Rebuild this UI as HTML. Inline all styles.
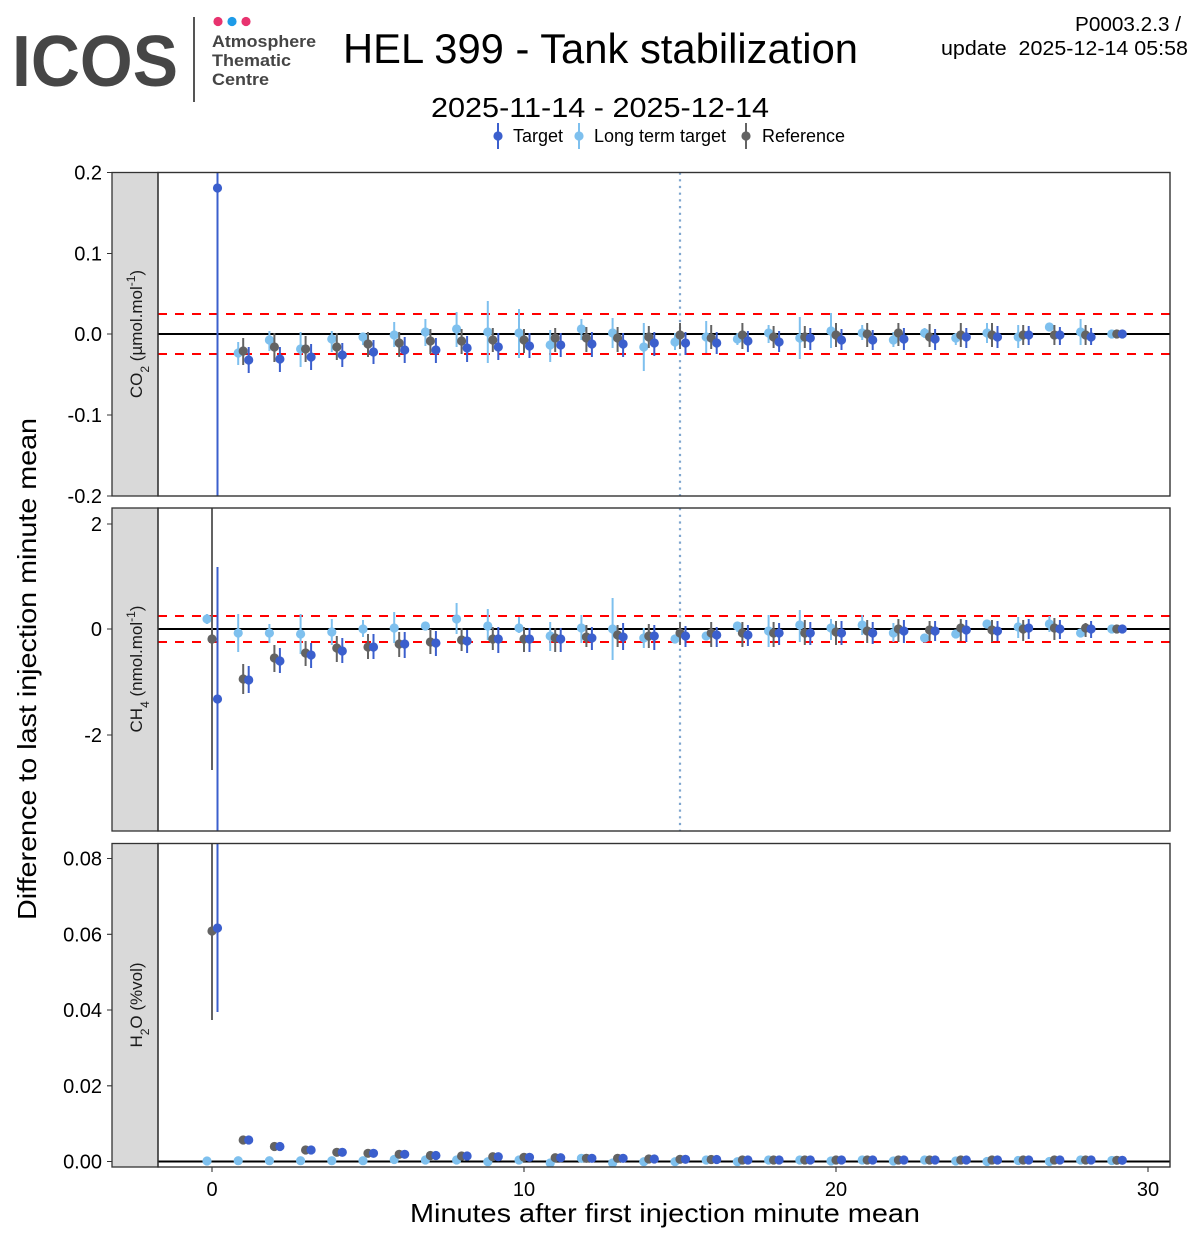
<!DOCTYPE html>
<html><head><meta charset="utf-8"><style>
html,body{margin:0;padding:0;background:#fff;}
svg{display:block;}
text{font-family:"Liberation Sans",Arial,sans-serif;}
</style></head><body>
<svg width="1200" height="1245" viewBox="0 0 1200 1245" xmlns="http://www.w3.org/2000/svg">
<rect x="0" y="0" width="1200" height="1245" fill="#fff"/>
<defs>
<clipPath id="c1"><rect x="158" y="172.5" width="1012" height="323.5"/></clipPath>
<clipPath id="c2"><rect x="158" y="508" width="1012" height="323"/></clipPath>
<clipPath id="c3"><rect x="158" y="843.5" width="1012" height="323.5"/></clipPath>
</defs>

<!-- Logo -->
<text x="12" y="86" font-size="72" font-weight="bold" fill="#464646" textLength="166" lengthAdjust="spacingAndGlyphs">ICOS</text>
<line x1="194" y1="17" x2="194" y2="102" stroke="#555" stroke-width="2"/>
<circle cx="218" cy="21.5" r="4.6" fill="#e8336f"/>
<circle cx="232" cy="21.5" r="4.6" fill="#1d9be8"/>
<circle cx="246" cy="21.5" r="4.6" fill="#e8336f"/>
<text x="212" y="47" font-size="17" font-weight="bold" fill="#454545" textLength="104" lengthAdjust="spacingAndGlyphs">Atmosphere</text>
<text x="212" y="66" font-size="17" font-weight="bold" fill="#454545" textLength="79" lengthAdjust="spacingAndGlyphs">Thematic</text>
<text x="212" y="85" font-size="17" font-weight="bold" fill="#454545" textLength="57" lengthAdjust="spacingAndGlyphs">Centre</text>

<!-- Titles -->
<text x="343" y="63" font-size="42" fill="#000" textLength="515" lengthAdjust="spacingAndGlyphs">HEL 399 - Tank stabilization</text>
<text x="431" y="117" font-size="28" fill="#000" textLength="338" lengthAdjust="spacingAndGlyphs">2025-11-14 - 2025-12-14</text>
<text x="1075" y="31" font-size="20" fill="#000" textLength="106" lengthAdjust="spacingAndGlyphs">P0003.2.3 /</text>
<text x="941" y="55" font-size="20" fill="#000" xml:space="preserve" style="white-space:pre" textLength="247" lengthAdjust="spacingAndGlyphs">update  2025-12-14 05:58</text>

<!-- Legend -->
<g stroke-width="2">
<line x1="498" y1="123" x2="498" y2="149" stroke="#3b5fcd"/>
<line x1="579" y1="123" x2="579" y2="149" stroke="#7ec0ee"/>
<line x1="746" y1="123" x2="746" y2="149" stroke="#636363"/>
</g>
<circle cx="498" cy="136" r="4.6" fill="#3b5fcd"/>
<circle cx="579" cy="136" r="4.6" fill="#7ec0ee"/>
<circle cx="746" cy="136" r="4.6" fill="#636363"/>
<text x="513" y="142" font-size="18" fill="#000" textLength="50" lengthAdjust="spacingAndGlyphs">Target</text>
<text x="594" y="142" font-size="18" fill="#000" textLength="132" lengthAdjust="spacingAndGlyphs">Long term target</text>
<text x="762" y="142" font-size="18" fill="#000" textLength="83" lengthAdjust="spacingAndGlyphs">Reference</text>

<!-- Y axis title -->
<text transform="translate(36,669) rotate(-90)" text-anchor="middle" font-size="26" fill="#000" textLength="502" lengthAdjust="spacingAndGlyphs">Difference to last injection minute mean</text>
<!-- X axis title -->
<text x="410" y="1222" font-size="26" fill="#000" textLength="510" lengthAdjust="spacingAndGlyphs">Minutes after first injection minute mean</text>

<!-- Strips -->
<g fill="#d9d9d9" stroke="#333" stroke-width="1.3">
<rect x="112" y="172.5" width="46" height="323.5"/>
<rect x="112" y="508" width="46" height="323"/>
<rect x="112" y="843.5" width="46" height="323.5"/>
</g>
<g fill="#1a1a1a" font-size="17" text-anchor="middle">
<text transform="translate(142,334) rotate(-90)">CO<tspan font-size="12" baseline-shift="sub">2</tspan> (µmol.mol<tspan font-size="12" baseline-shift="super">-1</tspan>)</text>
<text transform="translate(142,669) rotate(-90)">CH<tspan font-size="12" baseline-shift="sub">4</tspan> (nmol.mol<tspan font-size="12" baseline-shift="super">-1</tspan>)</text>
<text transform="translate(142,1005) rotate(-90)">H<tspan font-size="12" baseline-shift="sub">2</tspan>O (%vol)</text>
</g>

<!-- Y ticks -->
<g stroke="#333" stroke-width="1.1">
<path d="M107 172.5H112M107 253.5H112M107 334H112M107 415H112M107 496H112"/>
<path d="M107 524H112M107 629H112M107 735H112"/>
<path d="M107 858.5H112M107 934.3H112M107 1010H112M107 1085.8H112M107 1161.5H112"/>
<path d="M212 1167V1172M524 1167V1172M836 1167V1172M1148 1167V1172"/>
</g>
<g font-size="20" fill="#000" text-anchor="end">
<text x="102" y="179.5">0.2</text>
<text x="102" y="260.5">0.1</text>
<text x="102" y="341">0.0</text>
<text x="102" y="422">-0.1</text>
<text x="102" y="503">-0.2</text>
<text x="102" y="531">2</text>
<text x="102" y="636">0</text>
<text x="102" y="742">-2</text>
<text x="102" y="865.5">0.08</text>
<text x="102" y="941.3">0.06</text>
<text x="102" y="1017">0.04</text>
<text x="102" y="1092.8">0.02</text>
<text x="102" y="1168.5">0.00</text>
</g>
<g font-size="20" fill="#000" text-anchor="middle">
<text x="212" y="1196">0</text>
<text x="524" y="1196">10</text>
<text x="836" y="1196">20</text>
<text x="1148" y="1196">30</text>
</g>

<!-- PANEL 1 : CO2 -->
<g clip-path="url(#c1)">
<line x1="158" y1="334" x2="1170" y2="334" stroke="#000" stroke-width="2"/>
<line x1="158" y1="314" x2="1170" y2="314" stroke="#ff0000" stroke-width="2" stroke-dasharray="9 8"/>
<line x1="158" y1="354" x2="1170" y2="354" stroke="#ff0000" stroke-width="2" stroke-dasharray="9 8"/>
<line x1="680" y1="172.5" x2="680" y2="496" stroke="#7fa6cf" stroke-width="2.2" stroke-dasharray="2.2 4.5"/>
<!-- LT -->
<path stroke="#7ec0ee" stroke-width="2" fill="none" d="M238.2 342V365M269.4 331V351M300.6 332V367M331.8 331V352M363 333V345M394.2 322V347M425.4 319V346M456.6 312V347M487.8 301V363M519 309V358M550.2 330V362M581.4 319V340M612.6 318V348M643.8 323V371M675 333V350M706.2 321V353M737.4 333V345M768.6 325V343M799.8 317V359M831 313V348M862.2 325V340M893.4 332V347M924.6 328V338M955.8 333V345M987 323V343M1018.2 325V348M1080.6 319V345"/>
<g fill="#7ec0ee">
<circle cx="238.2" cy="353" r="4.6"/><circle cx="269.4" cy="340" r="4.6"/><circle cx="300.6" cy="349" r="4.6"/><circle cx="331.8" cy="339" r="4.6"/><circle cx="363" cy="337" r="4.6"/><circle cx="394.2" cy="335" r="4.6"/><circle cx="425.4" cy="332" r="4.6"/><circle cx="456.6" cy="329" r="4.6"/><circle cx="487.8" cy="332" r="4.6"/><circle cx="519" cy="333" r="4.6"/><circle cx="550.2" cy="345" r="4.6"/><circle cx="581.4" cy="329" r="4.6"/><circle cx="612.6" cy="333" r="4.6"/><circle cx="643.8" cy="347" r="4.6"/><circle cx="675" cy="342" r="4.6"/><circle cx="706.2" cy="337" r="4.6"/><circle cx="737.4" cy="339" r="4.6"/><circle cx="768.6" cy="333" r="4.6"/><circle cx="799.8" cy="338" r="4.6"/><circle cx="831" cy="331" r="4.6"/><circle cx="862.2" cy="333" r="4.6"/><circle cx="893.4" cy="340" r="4.6"/><circle cx="924.6" cy="333" r="4.6"/><circle cx="955.8" cy="338" r="4.6"/><circle cx="987" cy="333" r="4.6"/><circle cx="1018.2" cy="337" r="4.6"/><circle cx="1049.4" cy="327" r="4.6"/><circle cx="1080.6" cy="332" r="4.6"/><circle cx="1111.8" cy="334" r="4.6"/>
</g>
<!-- Ref -->
<path stroke="#636363" stroke-width="2" fill="none" d="M243.2 338V365M274.4 333V362M305.6 336V362M336.8 333V360M368 332V357M399.2 332V357M430.4 329V354M461.6 329V354M492.8 328V352M524 329V353M555.2 328V352M586.4 327V352M617.6 327V352M648.8 326V348M680 323V349M711.2 325V349M742.4 323V349M773.6 326V348M804.8 326V348M836 323V347M867.2 323V347M898.4 323V346M929.6 324V347M960.8 323V347M992 323V347M1023.2 325V345M1054.4 325V345M1085.6 325V345"/>
<g fill="#636363">
<circle cx="243.2" cy="351" r="4.6"/><circle cx="274.4" cy="347" r="4.6"/><circle cx="305.6" cy="349" r="4.6"/><circle cx="336.8" cy="347" r="4.6"/><circle cx="368" cy="344" r="4.6"/><circle cx="399.2" cy="343" r="4.6"/><circle cx="430.4" cy="341" r="4.6"/><circle cx="461.6" cy="341" r="4.6"/><circle cx="492.8" cy="340" r="4.6"/><circle cx="524" cy="340" r="4.6"/><circle cx="555.2" cy="338" r="4.6"/><circle cx="586.4" cy="338" r="4.6"/><circle cx="617.6" cy="338" r="4.6"/><circle cx="648.8" cy="337" r="4.6"/><circle cx="680" cy="335" r="4.6"/><circle cx="711.2" cy="338" r="4.6"/><circle cx="742.4" cy="335" r="4.6"/><circle cx="773.6" cy="337" r="4.6"/><circle cx="804.8" cy="337" r="4.6"/><circle cx="836" cy="335" r="4.6"/><circle cx="867.2" cy="334" r="4.6"/><circle cx="898.4" cy="333" r="4.6"/><circle cx="929.6" cy="337" r="4.6"/><circle cx="960.8" cy="335" r="4.6"/><circle cx="992" cy="335" r="4.6"/><circle cx="1023.2" cy="335" r="4.6"/><circle cx="1054.4" cy="335" r="4.6"/><circle cx="1085.6" cy="335" r="4.6"/><circle cx="1116.8" cy="334" r="4.6"/>
</g>
<!-- Target -->
<path stroke="#3b5fcd" stroke-width="2" fill="none" d="M217.5 172V496M248.7 347V373M279.9 347V372M311.1 344V370M342.3 343V367M373.5 340V364M404.7 337V363M435.9 338V363M467.1 336V362M498.3 333V360M529.5 333V358M560.7 333V357M591.9 332V357M623.1 333V357M654.3 332V356M685.5 332V355M716.7 332V354M747.9 331V352M779.1 331V352M810.3 328V350M841.5 329V350M872.7 330V350M903.9 328V350M935.1 329V350M966.3 328V348M997.5 326V348M1028.7 326V345M1059.9 327V345M1091.1 328V345"/>
<g fill="#3b5fcd">
<circle cx="217.5" cy="188" r="4.6"/><circle cx="248.7" cy="360" r="4.6"/><circle cx="279.9" cy="359" r="4.6"/><circle cx="311.1" cy="357" r="4.6"/><circle cx="342.3" cy="355" r="4.6"/><circle cx="373.5" cy="352" r="4.6"/><circle cx="404.7" cy="350" r="4.6"/><circle cx="435.9" cy="350" r="4.6"/><circle cx="467.1" cy="348" r="4.6"/><circle cx="498.3" cy="347" r="4.6"/><circle cx="529.5" cy="346" r="4.6"/><circle cx="560.7" cy="345" r="4.6"/><circle cx="591.9" cy="344" r="4.6"/><circle cx="623.1" cy="344" r="4.6"/><circle cx="654.3" cy="343" r="4.6"/><circle cx="685.5" cy="343" r="4.6"/><circle cx="716.7" cy="343" r="4.6"/><circle cx="747.9" cy="341" r="4.6"/><circle cx="779.1" cy="342" r="4.6"/><circle cx="810.3" cy="338" r="4.6"/><circle cx="841.5" cy="340" r="4.6"/><circle cx="872.7" cy="340" r="4.6"/><circle cx="903.9" cy="339" r="4.6"/><circle cx="935.1" cy="339" r="4.6"/><circle cx="966.3" cy="337" r="4.6"/><circle cx="997.5" cy="337" r="4.6"/><circle cx="1028.7" cy="335" r="4.6"/><circle cx="1059.9" cy="335" r="4.6"/><circle cx="1091.1" cy="337" r="4.6"/><circle cx="1122.3" cy="334" r="4.6"/>
</g>
</g>
<rect x="158" y="172.5" width="1012" height="323.5" fill="none" stroke="#333" stroke-width="1.4"/>

<!-- PANEL 2 : CH4 -->
<g clip-path="url(#c2)">
<line x1="158" y1="629" x2="1170" y2="629" stroke="#000" stroke-width="2"/>
<line x1="158" y1="616" x2="1170" y2="616" stroke="#ff0000" stroke-width="2" stroke-dasharray="9 8"/>
<line x1="158" y1="642" x2="1170" y2="642" stroke="#ff0000" stroke-width="2" stroke-dasharray="9 8"/>
<line x1="680" y1="508" x2="680" y2="831" stroke="#7fa6cf" stroke-width="2.2" stroke-dasharray="2.2 4.5"/>
<!-- LT -->
<path stroke="#7ec0ee" stroke-width="2" fill="none" d="M207 614V624M238.2 614V652M269.4 624V643M300.6 614V654M331.8 619V645M363 620V637M394.2 612V643M456.6 603V634M487.8 609V640M519 617V633M550.2 622V651M581.4 615V643M612.6 598V660M643.8 628V648M706.2 632V640M737.4 622V632M768.6 615V647M799.8 610V642M831 619V640M862.2 615V635M893.4 623V642M1018.2 617V638M1049.4 616V632"/>
<g fill="#7ec0ee">
<circle cx="207" cy="619" r="4.6"/><circle cx="238.2" cy="633" r="4.6"/><circle cx="269.4" cy="633" r="4.6"/><circle cx="300.6" cy="634" r="4.6"/><circle cx="331.8" cy="632" r="4.6"/><circle cx="363" cy="629" r="4.6"/><circle cx="394.2" cy="628" r="4.6"/><circle cx="425.4" cy="626" r="4.6"/><circle cx="456.6" cy="619" r="4.6"/><circle cx="487.8" cy="626" r="4.6"/><circle cx="519" cy="628" r="4.6"/><circle cx="550.2" cy="636" r="4.6"/><circle cx="581.4" cy="628" r="4.6"/><circle cx="612.6" cy="629" r="4.6"/><circle cx="643.8" cy="638" r="4.6"/><circle cx="675" cy="639" r="4.6"/><circle cx="706.2" cy="636" r="4.6"/><circle cx="737.4" cy="626" r="4.6"/><circle cx="768.6" cy="631" r="4.6"/><circle cx="799.8" cy="625" r="4.6"/><circle cx="831" cy="628" r="4.6"/><circle cx="862.2" cy="625" r="4.6"/><circle cx="893.4" cy="633" r="4.6"/><circle cx="924.6" cy="638" r="4.6"/><circle cx="955.8" cy="634" r="4.6"/><circle cx="987" cy="624" r="4.6"/><circle cx="1018.2" cy="627" r="4.6"/><circle cx="1049.4" cy="624" r="4.6"/><circle cx="1080.6" cy="633" r="4.6"/><circle cx="1111.8" cy="629" r="4.6"/>
</g>
<!-- Ref -->
<path stroke="#636363" stroke-width="2" fill="none" d="M212 508V770M243.2 664V694M274.4 645V672M305.6 641V666M336.8 636V662M368 634V659M399.2 632V657M430.4 629V654M461.6 628V651M492.8 627V650M524 627V652M555.2 628V652M586.4 625V647M617.6 625V647M648.8 624V648M680 622V645M711.2 622V647M742.4 622V647M773.6 622V647M804.8 620V645M836 621V645M867.2 620V643M898.4 619V642M929.6 621V641M960.8 619V641M992 620V642M1023.2 620V641M1054.4 618V640M1085.6 623V637"/>
<g fill="#636363">
<circle cx="212" cy="639" r="4.6"/><circle cx="243.2" cy="679" r="4.6"/><circle cx="274.4" cy="658" r="4.6"/><circle cx="305.6" cy="653" r="4.6"/><circle cx="336.8" cy="648" r="4.6"/><circle cx="368" cy="647" r="4.6"/><circle cx="399.2" cy="644" r="4.6"/><circle cx="430.4" cy="642" r="4.6"/><circle cx="461.6" cy="640" r="4.6"/><circle cx="492.8" cy="639" r="4.6"/><circle cx="524" cy="639" r="4.6"/><circle cx="555.2" cy="638" r="4.6"/><circle cx="586.4" cy="637" r="4.6"/><circle cx="617.6" cy="635" r="4.6"/><circle cx="648.8" cy="636" r="4.6"/><circle cx="680" cy="633" r="4.6"/><circle cx="711.2" cy="633" r="4.6"/><circle cx="742.4" cy="633" r="4.6"/><circle cx="773.6" cy="633" r="4.6"/><circle cx="804.8" cy="633" r="4.6"/><circle cx="836" cy="632" r="4.6"/><circle cx="867.2" cy="631" r="4.6"/><circle cx="898.4" cy="629" r="4.6"/><circle cx="929.6" cy="630" r="4.6"/><circle cx="960.8" cy="628" r="4.6"/><circle cx="992" cy="630" r="4.6"/><circle cx="1023.2" cy="629" r="4.6"/><circle cx="1054.4" cy="628" r="4.6"/><circle cx="1085.6" cy="628" r="4.6"/><circle cx="1116.8" cy="629" r="4.6"/>
</g>
<!-- Target -->
<path stroke="#3b5fcd" stroke-width="2" fill="none" d="M217.5 567V831M248.7 666V693M279.9 648V673M311.1 643V668M342.3 638V663M373.5 634V659M404.7 632V658M435.9 631V656M467.1 630V653M498.3 627V653M529.5 628V652M560.7 628V652M591.9 627V650M623.1 623V650M654.3 625V650M685.5 626V647M716.7 627V647M747.9 625V646M779.1 623V645M810.3 622V645M841.5 621V645M872.7 622V644M903.9 620V643M935.1 621V641M966.3 620V642M997.5 621V641M1028.7 619V639M1059.9 620V639M1091.1 621V638"/>
<g fill="#3b5fcd">
<circle cx="217.5" cy="699" r="4.6"/><circle cx="248.7" cy="680" r="4.6"/><circle cx="279.9" cy="661" r="4.6"/><circle cx="311.1" cy="655" r="4.6"/><circle cx="342.3" cy="651" r="4.6"/><circle cx="373.5" cy="647" r="4.6"/><circle cx="404.7" cy="644" r="4.6"/><circle cx="435.9" cy="643" r="4.6"/><circle cx="467.1" cy="641" r="4.6"/><circle cx="498.3" cy="639" r="4.6"/><circle cx="529.5" cy="639" r="4.6"/><circle cx="560.7" cy="639" r="4.6"/><circle cx="591.9" cy="638" r="4.6"/><circle cx="623.1" cy="637" r="4.6"/><circle cx="654.3" cy="636" r="4.6"/><circle cx="685.5" cy="636" r="4.6"/><circle cx="716.7" cy="635" r="4.6"/><circle cx="747.9" cy="635" r="4.6"/><circle cx="779.1" cy="633" r="4.6"/><circle cx="810.3" cy="633" r="4.6"/><circle cx="841.5" cy="633" r="4.6"/><circle cx="872.7" cy="633" r="4.6"/><circle cx="903.9" cy="631" r="4.6"/><circle cx="935.1" cy="631" r="4.6"/><circle cx="966.3" cy="630" r="4.6"/><circle cx="997.5" cy="631" r="4.6"/><circle cx="1028.7" cy="628" r="4.6"/><circle cx="1059.9" cy="629" r="4.6"/><circle cx="1091.1" cy="629" r="4.6"/><circle cx="1122.3" cy="629" r="4.6"/>
</g>
</g>
<rect x="158" y="508" width="1012" height="323" fill="none" stroke="#333" stroke-width="1.4"/>

<!-- PANEL 3 : H2O -->
<g clip-path="url(#c3)">
<line x1="158" y1="1161.5" x2="1170" y2="1161.5" stroke="#000" stroke-width="2"/>
<!-- LT -->
<g fill="#7ec0ee">
<circle cx="207" cy="1161" r="4.6"/><circle cx="238.2" cy="1160.7" r="4.6"/><circle cx="269.4" cy="1160.7" r="4.6"/><circle cx="300.6" cy="1160.7" r="4.6"/><circle cx="331.8" cy="1160.7" r="4.6"/><circle cx="363" cy="1160.7" r="4.6"/><circle cx="394.2" cy="1159.5" r="4.6"/><circle cx="425.4" cy="1160" r="4.6"/><circle cx="456.6" cy="1160" r="4.6"/><circle cx="487.8" cy="1161.7" r="4.6"/><circle cx="519" cy="1160" r="4.6"/><circle cx="550.2" cy="1163" r="4.6"/><circle cx="581.4" cy="1158.3" r="4.6"/><circle cx="612.6" cy="1163" r="4.6"/><circle cx="643.8" cy="1161.7" r="4.6"/><circle cx="675" cy="1161.7" r="4.6"/><circle cx="706.2" cy="1160" r="4.6"/><circle cx="737.4" cy="1161.7" r="4.6"/><circle cx="768.6" cy="1160" r="4.6"/><circle cx="799.8" cy="1160" r="4.6"/><circle cx="831" cy="1161" r="4.6"/><circle cx="862.2" cy="1160" r="4.6"/><circle cx="893.4" cy="1161" r="4.6"/><circle cx="924.6" cy="1160" r="4.6"/><circle cx="955.8" cy="1161" r="4.6"/><circle cx="987" cy="1161.5" r="4.6"/><circle cx="1018.2" cy="1160.5" r="4.6"/><circle cx="1049.4" cy="1161.5" r="4.6"/><circle cx="1080.6" cy="1160" r="4.6"/><circle cx="1111.8" cy="1160.5" r="4.6"/>
</g>
<!-- Ref -->
<path stroke="#636363" stroke-width="2" fill="none" d="M212 843V1020"/>
<g fill="#636363">
<circle cx="212" cy="931" r="4.6"/><circle cx="243.2" cy="1140" r="4.6"/><circle cx="274.4" cy="1146.5" r="4.6"/><circle cx="305.6" cy="1150" r="4.6"/><circle cx="336.8" cy="1152.3" r="4.6"/><circle cx="368" cy="1153.3" r="4.6"/><circle cx="399.2" cy="1154.3" r="4.6"/><circle cx="430.4" cy="1155.5" r="4.6"/><circle cx="461.6" cy="1156" r="4.6"/><circle cx="492.8" cy="1156.7" r="4.6"/><circle cx="524" cy="1157.3" r="4.6"/><circle cx="555.2" cy="1157.7" r="4.6"/><circle cx="586.4" cy="1158.3" r="4.6"/><circle cx="617.6" cy="1158.3" r="4.6"/><circle cx="648.8" cy="1159" r="4.6"/><circle cx="680" cy="1159.3" r="4.6"/><circle cx="711.2" cy="1159.5" r="4.6"/><circle cx="742.4" cy="1160" r="4.6"/><circle cx="773.6" cy="1160" r="4.6"/><circle cx="804.8" cy="1160" r="4.6"/><circle cx="836" cy="1160" r="4.6"/><circle cx="867.2" cy="1160" r="4.6"/><circle cx="898.4" cy="1160" r="4.6"/><circle cx="929.6" cy="1160" r="4.6"/><circle cx="960.8" cy="1160" r="4.6"/><circle cx="992" cy="1160" r="4.6"/><circle cx="1023.2" cy="1160" r="4.6"/><circle cx="1054.4" cy="1160" r="4.6"/><circle cx="1085.6" cy="1160" r="4.6"/><circle cx="1116.8" cy="1160.3" r="4.6"/>
</g>
<!-- Target -->
<path stroke="#3b5fcd" stroke-width="2" fill="none" d="M217.5 843V1012"/>
<g fill="#3b5fcd">
<circle cx="217.5" cy="928" r="4.6"/><circle cx="248.7" cy="1140" r="4.6"/><circle cx="279.9" cy="1146.5" r="4.6"/><circle cx="311.1" cy="1150" r="4.6"/><circle cx="342.3" cy="1152.3" r="4.6"/><circle cx="373.5" cy="1153.3" r="4.6"/><circle cx="404.7" cy="1154.3" r="4.6"/><circle cx="435.9" cy="1155.5" r="4.6"/><circle cx="467.1" cy="1156" r="4.6"/><circle cx="498.3" cy="1156.7" r="4.6"/><circle cx="529.5" cy="1157.3" r="4.6"/><circle cx="560.7" cy="1157.7" r="4.6"/><circle cx="591.9" cy="1158.3" r="4.6"/><circle cx="623.1" cy="1158.3" r="4.6"/><circle cx="654.3" cy="1159" r="4.6"/><circle cx="685.5" cy="1159.3" r="4.6"/><circle cx="716.7" cy="1159.5" r="4.6"/><circle cx="747.9" cy="1160" r="4.6"/><circle cx="779.1" cy="1160" r="4.6"/><circle cx="810.3" cy="1160" r="4.6"/><circle cx="841.5" cy="1160" r="4.6"/><circle cx="872.7" cy="1160" r="4.6"/><circle cx="903.9" cy="1160" r="4.6"/><circle cx="935.1" cy="1160" r="4.6"/><circle cx="966.3" cy="1160" r="4.6"/><circle cx="997.5" cy="1160" r="4.6"/><circle cx="1028.7" cy="1160" r="4.6"/><circle cx="1059.9" cy="1160" r="4.6"/><circle cx="1091.1" cy="1160" r="4.6"/><circle cx="1122.3" cy="1160.3" r="4.6"/>
</g>
</g>
<rect x="158" y="843.5" width="1012" height="323.5" fill="none" stroke="#333" stroke-width="1.4"/>
</svg>
</body></html>
